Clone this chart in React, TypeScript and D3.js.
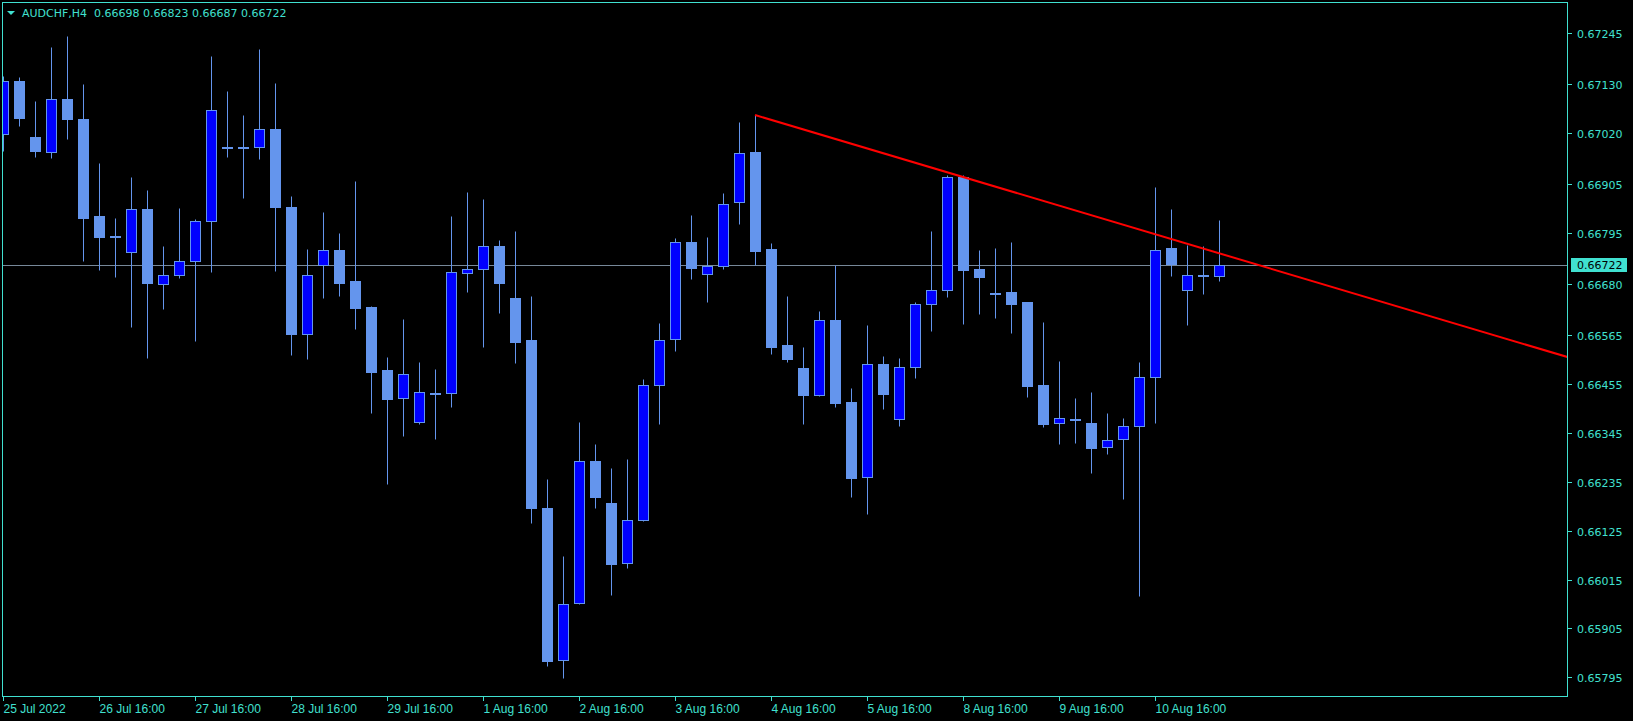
import React, { useRef, useEffect } from "react";
import * as d3 from "d3";

const symbol = "AUDCHF,H4";
const lastQuote = ["0.66698", "0.66823", "0.66687", "0.66722"];
const bidPrice = 0.66722;

// H4 bars, oldest first
const opens = [
    0.67017, 0.67137, 0.67011, 0.66976, 0.67095, 0.67051, 0.66833, 0.66787, 0.66751, 0.66849,
    0.66681, 0.66700, 0.66731, 0.66821, 0.66987, 0.66987, 0.66987, 0.67029, 0.66853, 0.66568,
    0.66722, 0.66756, 0.66687, 0.66628, 0.66486, 0.66423, 0.66369, 0.66434, 0.66434, 0.66704,
    0.66713, 0.66765, 0.66648, 0.66553, 0.66176, 0.65834, 0.65962, 0.66282, 0.66187, 0.66052,
    0.66149, 0.66452, 0.66556, 0.66774, 0.66702, 0.66720, 0.66864, 0.66977, 0.66759, 0.66543,
    0.66491, 0.66431, 0.66599, 0.66414, 0.66246, 0.66499, 0.66376, 0.66493, 0.66636, 0.66666,
    0.66920, 0.66714, 0.66660, 0.66662, 0.66639, 0.66453, 0.66367, 0.66376, 0.66367, 0.66313,
    0.66331, 0.66360, 0.66470, 0.66761, 0.66666, 0.66700, 0.66698,
];
const highs = [
    0.67148, 0.67146, 0.67092, 0.67213, 0.67238, 0.67130, 0.66951, 0.66828, 0.66921, 0.66891,
    0.66765, 0.66851, 0.66826, 0.67193, 0.67114, 0.67060, 0.67209, 0.67132, 0.66878, 0.66759,
    0.66842, 0.66795, 0.66912, 0.66630, 0.66516, 0.66601, 0.66505, 0.66489, 0.66833, 0.66887,
    0.66871, 0.66779, 0.66799, 0.66653, 0.66241, 0.66068, 0.66370, 0.66320, 0.66266, 0.66286,
    0.66466, 0.66592, 0.66783, 0.66835, 0.66786, 0.66885, 0.67044, 0.67060, 0.66772, 0.66653,
    0.66538, 0.66619, 0.66722, 0.66446, 0.66588, 0.66518, 0.66513, 0.66639, 0.66799, 0.66925,
    0.66925, 0.66756, 0.66761, 0.66774, 0.66639, 0.66594, 0.66507, 0.66424, 0.66437, 0.66390,
    0.66379, 0.66505, 0.66898, 0.66849, 0.66768, 0.66765, 0.66823,
];
const lows = [
    0.66980, 0.67036, 0.66966, 0.66964, 0.67007, 0.66732, 0.66712, 0.66696, 0.66584, 0.66514,
    0.66624, 0.66694, 0.66552, 0.66708, 0.66966, 0.66874, 0.66962, 0.66710, 0.66521, 0.66512,
    0.66649, 0.66654, 0.66579, 0.66390, 0.66231, 0.66339, 0.66364, 0.66332, 0.66404, 0.66663,
    0.66539, 0.66615, 0.66503, 0.66143, 0.65821, 0.65794, 0.65959, 0.66177, 0.65981, 0.66042,
    0.66146, 0.66364, 0.66530, 0.66691, 0.66640, 0.66714, 0.66816, 0.66722, 0.66523, 0.66505,
    0.66364, 0.66429, 0.66404, 0.66201, 0.66163, 0.66399, 0.66361, 0.66469, 0.66575, 0.66651,
    0.66591, 0.66613, 0.66604, 0.66570, 0.66426, 0.66359, 0.66321, 0.66323, 0.66255, 0.66298,
    0.66197, 0.65977, 0.66368, 0.66698, 0.66588, 0.66658, 0.66687,
];
const closes = [
    0.67137, 0.67054, 0.66978, 0.67095, 0.67050, 0.66829, 0.66786, 0.66787, 0.66848, 0.66683,
    0.66700, 0.66731, 0.66821, 0.67071, 0.66987, 0.66987, 0.67028, 0.66854, 0.66568, 0.66700,
    0.66756, 0.66683, 0.66627, 0.66483, 0.66422, 0.66477, 0.66436, 0.66434, 0.66706, 0.66713,
    0.66765, 0.66683, 0.66550, 0.66177, 0.65833, 0.65960, 0.66281, 0.66201, 0.66049, 0.66149,
    0.66452, 0.66553, 0.66774, 0.66717, 0.66720, 0.66861, 0.66974, 0.66755, 0.66539, 0.66512,
    0.66431, 0.66598, 0.66413, 0.66244, 0.66499, 0.66433, 0.66493, 0.66634, 0.66666, 0.66920,
    0.66712, 0.66696, 0.66660, 0.66634, 0.66451, 0.66366, 0.66378, 0.66376, 0.66312, 0.66328,
    0.66360, 0.66470, 0.66756, 0.66726, 0.66700, 0.66700, 0.66722,
];

// one label every 6 bars
const timeLabels = [
    "25 Jul 2022", "26 Jul 16:00", "27 Jul 16:00", "28 Jul 16:00", "29 Jul 16:00",
    "1 Aug 16:00", "2 Aug 16:00", "3 Aug 16:00", "4 Aug 16:00", "5 Aug 16:00",
    "8 Aug 16:00", "9 Aug 16:00", "10 Aug 16:00",
];
const priceTicks = [
    "0.67245", "0.67130", "0.67020", "0.66905", "0.66795", "0.66680", "0.66565",
    "0.66455", "0.66345", "0.66235", "0.66125", "0.66015", "0.65905", "0.65795",
];

// trend line anchors: bar index + price
const trendBars = [47, 72];
const trendPrices = [0.6706, 0.66792];

const App = () => {
    const svgRef = useRef<SVGSVGElement>(null);

    useEffect(() => {
        if (!svgRef.current) return;
        const width = 1633;
        const height = 721;
        const plot = { left: 2, top: 2, right: 1567, bottom: 696 };
        const fg = "#40E0D0";
        const bull = "#0000FF";
        const bear = "#6495ED";

        d3.select(svgRef.current).selectAll("*").remove();
        const svg = d3.select(svgRef.current).attr("width", width).attr("height", height);

        svg.append("rect").attr("width", width).attr("height", height).attr("fill", "#000");

        const x = d3.scaleLinear().domain([0, 76]).range([3, 3 + 16 * 76]);
        const y = d3.scaleLinear().domain([0.65795, 0.67245]).range([677.4, 32.8]);
        const px = (i: number) => Math.round(x(i)) + 0.5;
        const py = (v: number) => Math.round(y(v)) + 0.5;

        svg.append("defs").append("clipPath").attr("id", "plot-clip")
            .append("rect")
            .attr("x", plot.left + 1).attr("y", plot.top + 1)
            .attr("width", plot.right - plot.left - 1).attr("height", plot.bottom - plot.top - 1);

        const chart = svg.append("g").attr("clip-path", "url(#plot-clip)");

        // bid line
        chart.append("line")
            .attr("x1", plot.left).attr("x2", plot.right)
            .attr("y1", py(bidPrice)).attr("y2", py(bidPrice))
            .attr("stroke", "#778899").attr("stroke-width", 1);

        const bars = d3.range(opens.length);

        chart.selectAll(".wick").data(bars).enter().append("line")
            .attr("x1", (i) => px(i)).attr("x2", (i) => px(i))
            .attr("y1", (i) => py(highs[i])).attr("y2", (i) => py(lows[i]))
            .attr("stroke", bear).attr("stroke-width", 1);

        chart.selectAll(".body").data(bars).enter().append("rect")
            .attr("x", (i) => px(i) - 5)
            .attr("width", 10)
            .attr("y", (i) => py(Math.max(opens[i], closes[i])))
            .attr("height", (i) => Math.max(1, py(Math.min(opens[i], closes[i])) - py(Math.max(opens[i], closes[i]))))
            .attr("fill", (i) => (closes[i] > opens[i] ? bull : bear))
            .attr("stroke", bear).attr("stroke-width", 1);

        // trend line (ray to the right)
        const slope = (trendPrices[1] - trendPrices[0]) / (trendBars[1] - trendBars[0]);
        const endBar = x.invert(plot.right + 5);
        chart.append("line")
            .attr("x1", x(trendBars[0])).attr("y1", y(trendPrices[0]))
            .attr("x2", x(endBar)).attr("y2", y(trendPrices[0] + slope * (endBar - trendBars[0])))
            .attr("stroke", "#FF0000").attr("stroke-width", 2);

        // frame
        svg.append("rect")
            .attr("x", plot.left + 0.5).attr("y", plot.top + 0.5)
            .attr("width", plot.right - plot.left).attr("height", plot.bottom - plot.top)
            .attr("fill", "none").attr("stroke", fg).attr("stroke-width", 1);

        // price axis
        const yAxis = svg.append("g");
        priceTicks.forEach((t) => {
            const yy = py(+t);
            yAxis.append("line")
                .attr("x1", plot.right + 0.5).attr("x2", plot.right + 5)
                .attr("y1", yy).attr("y2", yy)
                .attr("stroke", fg);
            yAxis.append("text")
                .attr("x", 1577).attr("y", yy + 4)
                .style("font-family", "DejaVu Sans")
                .style("font-size", "11px")
                .style("fill", fg)
                .text(t);
        });

        // bid price tag
        const by = Math.round(y(bidPrice));
        svg.append("rect")
            .attr("x", 1571).attr("y", by - 7).attr("width", 56).attr("height", 14)
            .attr("fill", fg);
        svg.append("text")
            .attr("x", 1577).attr("y", by + 4)
            .style("font-family", "DejaVu Sans")
            .style("font-size", "11px")
            .style("fill", "#000")
            .text(bidPrice.toFixed(5));

        // time axis
        timeLabels.forEach((t, k) => {
            const xx = px(k * 6);
            svg.append("line")
                .attr("x1", xx).attr("x2", xx)
                .attr("y1", plot.bottom).attr("y2", plot.bottom + 5)
                .attr("stroke", fg);
            svg.append("text")
                .attr("x", xx).attr("y", 713)
                .style("font-family", "Liberation Sans")
                .style("font-size", "12px")
                .style("fill", fg)
                .text(t);
        });

        // header
        svg.append("path").attr("d", "M7,11 L15,11 L11,15 Z").attr("fill", fg);
        svg.append("text")
            .attr("x", 22).attr("y", 17)
            .style("font-family", "DejaVu Sans")
            .style("font-size", "11px")
            .style("fill", fg)
            .text(symbol);
        svg.append("text")
            .attr("x", 94).attr("y", 17)
            .style("font-family", "DejaVu Sans")
            .style("font-size", "11px")
            .style("fill", fg)
            .text(lastQuote.join(" "));
    }, []);

    return <svg ref={svgRef} style={{ position: "fixed", left: 0, top: 0, display: "block" }} />;
};

export default App;
